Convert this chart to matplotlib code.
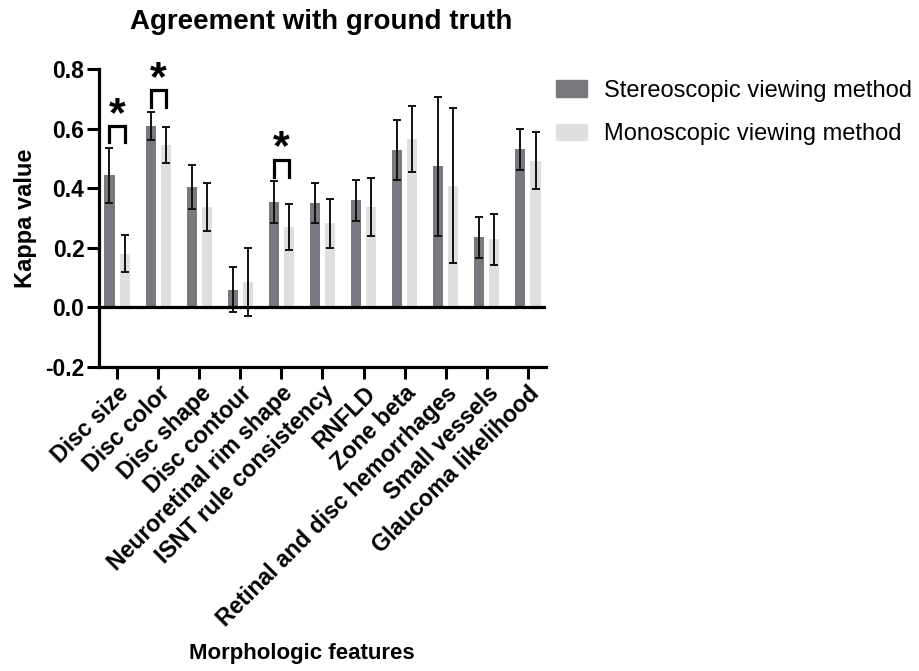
import matplotlib.pyplot as plt
import numpy as np
from matplotlib.patches import Patch

plt.rcParams['font.family'] = ['Liberation Sans', 'DejaVu Sans']

# Data
features = ["Disc size", "Disc color", "Disc shape", "Disc contour",
            "Neuroretinal rim shape", "ISNT rule consistency", "RNFLD",
            "Zone beta", "Retinal and disc hemorrhages", "Small vessels",
            "Glaucoma likelihood"]
stereo = [0.444, 0.609, 0.404, 0.059, 0.353, 0.349, 0.359, 0.529, 0.473, 0.235, 0.530]
stereo_err = [0.092, 0.048, 0.075, 0.076, 0.070, 0.067, 0.070, 0.100, 0.234, 0.070, 0.068]
mono = [0.180, 0.545, 0.336, 0.085, 0.270, 0.282, 0.337, 0.565, 0.409, 0.229, 0.492]
mono_err = [0.062, 0.060, 0.080, 0.114, 0.076, 0.081, 0.097, 0.110, 0.260, 0.086, 0.095]

# significance brackets: feature index, bracket top, leg bottom
sig_idx = [0, 1, 4]
sig_top = [0.609, 0.729, 0.496]
sig_leg = [0.555, 0.673, 0.436]

stereo_color = '#79787e'
mono_color = '#dfdfdf'

fig = plt.figure(figsize=(9.19, 6.71), dpi=100)
ax = fig.add_axes([99/919, 1 - 367/671, (546 - 99)/919, (367 - 69)/671])

x = np.arange(len(features))
off = 0.185
w = 0.245
ekw = dict(ecolor='#111111', elinewidth=1.4, capsize=3, capthick=1.4)
ax.bar(x - off, stereo, w, color=stereo_color, yerr=stereo_err, error_kw=ekw, zorder=2)
ax.bar(x + off, mono, w, color=mono_color, yerr=mono_err, error_kw=ekw, zorder=2)

ax.axhline(0, color='black', lw=2.3, zorder=3)

for i, top, leg in zip(sig_idx, sig_top, sig_leg):
    ax.plot([i - off, i - off, i + off, i + off], [leg, top, top, leg],
            color='black', lw=2.3, solid_joinstyle='miter', zorder=3)
    ax.text(i, top - 0.03, '*', ha='center', va='bottom', fontsize=31,
            fontweight='bold', zorder=3)

ax.set_xlim(-0.44, len(features) - 1 + 0.44)
ax.set_ylim(-0.2, 0.8)
ax.set_yticks(np.arange(-0.2, 0.81, 0.2))
ax.set_yticklabels([f"{v:.1f}" for v in np.arange(-0.2, 0.81, 0.2)],
                   fontsize=16.5, fontweight='bold')
ax.set_xticks(x)
ax.set_xticklabels(features, rotation=45, ha='right', rotation_mode='anchor',
                   fontsize=16.7, fontweight='bold')
ax.tick_params(axis='both', length=8.5, width=2.2, color='black')
ax.tick_params(axis='y', pad=2)
ax.tick_params(axis='x', pad=2)

for s in ['top', 'right']:
    ax.spines[s].set_visible(False)
for s in ['left', 'bottom']:
    ax.spines[s].set_linewidth(2.3)

ax.set_ylabel('Kappa value', fontsize=17, fontweight='bold', labelpad=6)
fig.text(321/919, 1 - 22/671, 'Agreement with ground truth', ha='center', va='center',
         fontsize=20, fontweight='bold')
fig.text(302/919, 1 - 653/671, 'Morphologic features', ha='center', va='center',
         fontsize=16, fontweight='bold')

handles = [Patch(color=stereo_color, label='Stereoscopic viewing method'),
           Patch(color=mono_color, label='Monoscopic viewing method')]
fig.legend(handles=handles, loc='upper left', bbox_to_anchor=(556/919, 1 - 80/671),
           frameon=False, fontsize=17, handlelength=1.3, handleheight=0.7,
           handletextpad=0.75, labelspacing=0.9, borderpad=0, borderaxespad=0)

fig.savefig('out.png', dpi=100, facecolor='white')
